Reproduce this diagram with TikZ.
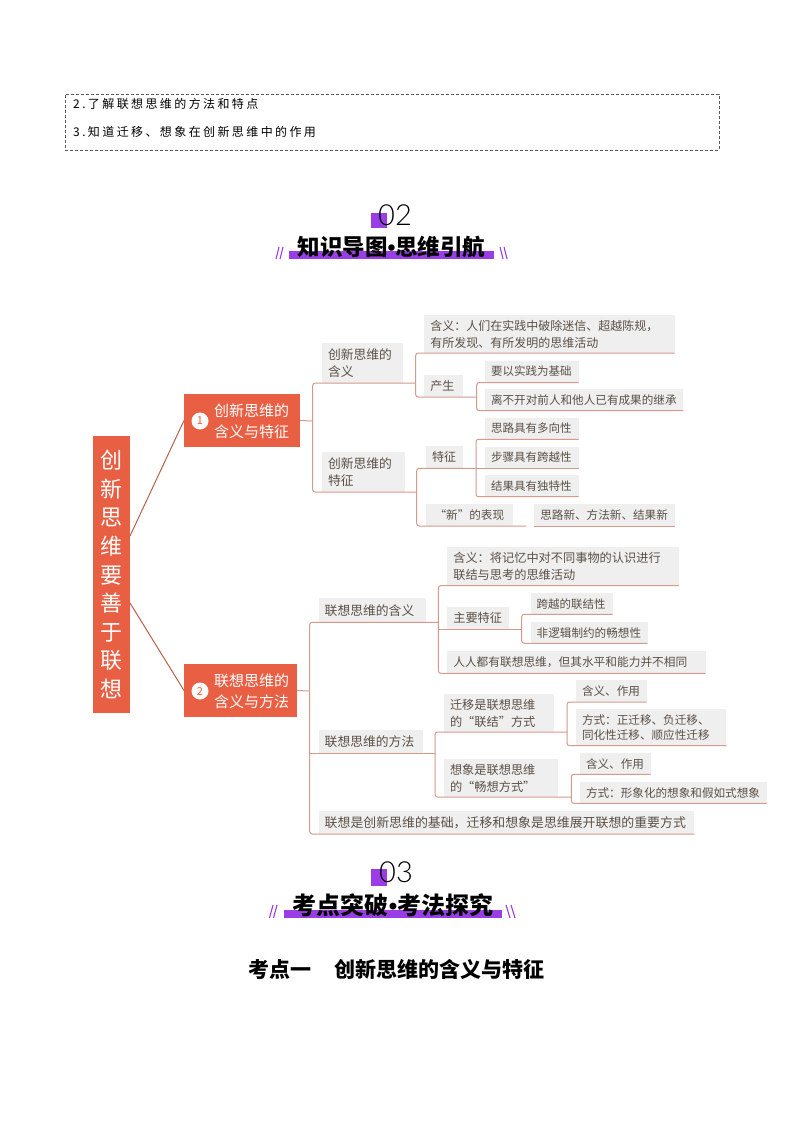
\documentclass[tikz,border=0pt]{standalone}
\usepackage{fontspec}
\setmainfont{Noto Sans CJK SC}
\newfontfamily\latinf{Liberation Sans}
\newfontfamily\numf{Lato Light}
\definecolor{mapred}{HTML}{E95F43}
\definecolor{rootline}{HTML}{B8614A}
\definecolor{branchline}{HTML}{D49A8B}
\definecolor{leafgray}{HTML}{EFEFEF}
\definecolor{leaftext}{HTML}{5B5046}
\definecolor{accent}{HTML}{9B3DE6}
\tikzset{
  x=1pt,y=-1pt,
  leaf/.style={fill=leafgray,text=leaftext,inner xsep=6pt,inner ysep=0pt,outer sep=0pt,anchor=north west,align=left},
  mainbox/.style={fill=mapred,inner sep=0pt,outer sep=0pt,anchor=north west},
  maintext/.style={text=white,inner sep=0pt,anchor=west,align=left,font=\fontsize{15}{20.5}\selectfont},
  numdot/.style={circle,fill=white,text=mapred,inner sep=0pt,minimum size=17pt,font=\fontsize{11}{11}\selectfont},
  rootlink/.style={draw=rootline,line width=1pt},
  branch/.style={draw=branchline,line width=1pt,rounded corners=2.5pt},
  titlebar/.style={fill=accent,inner sep=0pt,outer sep=0pt,anchor=north west},
  slash/.style={draw=accent,line width=1.1pt},
  numtitle/.style={text=black,inner sep=0pt,font=\numf\fontsize{29}{29}\selectfont},
  goaltext/.style={anchor=west,inner sep=0pt,font=\fontsize{12}{14}\selectfont\addfontfeature{LetterSpace=20}},
}
% \bx{font size}{name}{x1}{y1}{x2}{y2}{text}
\newcommand{\bx}[7]{\node[leaf,font=\fontsize{#1}{17}\selectfont,text width=#5pt-#3pt-12pt,minimum height=#6pt-#4pt] (#2) at (#3,#4) {#7};}
\begin{document}
\begin{tikzpicture}
\useasboundingbox (0,0) rectangle (794,1123);
\fill[white] (0,0) rectangle (794,1123);
% objectives box
\node[draw=black!65,densely dashed,line width=0.4pt,inner sep=0pt,outer sep=0pt,minimum width=654pt,minimum height=56pt,anchor=north west] (goals) at (65,94) {};
\node[goaltext] (g1) at (73,104) {2.了解联想思维的方法和特点};
\node[goaltext] (g2) at (73,132) {3.知道迁移、想象在创新思维中的作用};
% heading 02
\node[titlebar,minimum width=16pt,minimum height=15pt] (sq2) at (371,213) {};
\node[numtitle] (n02) at (395,215) {02};
\node[titlebar,minimum width=205pt,minimum height=8pt] (bar2) at (289,251) {};
\node[text=black,inner sep=0pt,font=\fontsize{22.5}{22.5}\bfseries\selectfont] (t2) at (391.5,246.5) {知识导图{\latinf\bfseries•}思维引航};
\draw[slash] (279,247) -- (276,259) (283,247) -- (280,259);
\draw[slash] (500,247) -- (503,259) (504,247) -- (507,259);
% root
\node[fill=mapred,text=white,inner sep=0pt,outer sep=0pt,minimum width=37pt,minimum height=277pt,anchor=north west,align=center,font=\fontsize{22}{28.6}\selectfont] (root) at (93,436) {创\\新\\思\\维\\要\\善\\于\\联\\想};
% level one
\node[mainbox,minimum width=116pt,minimum height=53pt] (m1box) at (184,394) {};
\node[mainbox,minimum width=113pt,minimum height=53pt] (m2box) at (184,664) {};
\node[numdot] (d1) at (200,421) {1};
\node[numdot] (d2) at (200,691) {2};
\node[maintext] (m1t) at (214,421.5) {创新思维的\\含义与特征};
\node[maintext] (m2t) at (214,691.5) {联想思维的\\含义与方法};
\coordinate (r1) at (root.east |- 0,536);
\coordinate (r2) at (root.east |- 0,603);
\draw[rootlink] (r1) -- (m1box.west);
\draw[rootlink] (r2) -- (m2box.west);
% upper branch
\bx{12.8}{a1}{322}{343}{403}{383}{创新思维的\\含义}
\bx{12.8}{a2}{322}{452}{404.5}{492}{创新思维的\\特征}
\bx{12}{a11}{424.3}{315}{674.7}{353}{含义：人们在实践中破除迷信、超越陈规，\\有所发现、有所发明的思维活动}
\bx{12}{a12}{424.3}{375}{463.3}{397}{产生}
\bx{11.5}{a121}{485}{360.7}{578.7}{382.5}{要以实践为基础}
\bx{11.6}{a122}{485}{389.3}{683.3}{410.7}{离不开对前人和他人已有成果的继承}
\bx{12}{a21}{426}{446}{463}{468.3}{特征}
\bx{11.5}{a211}{485}{417.7}{578.7}{439.3}{思路具有多向性}
\bx{11.5}{a212}{485}{446.7}{578.7}{468.3}{步骤具有跨越性}
\bx{11.5}{a213}{485}{475}{578.7}{496.7}{结果具有独特性}
\node[leaf,font=\fontsize{11.6}{17}\selectfont,minimum width=86.7pt,minimum height=22pt,align=center] (a22) at (426,504) {“新”的表现};
\bx{11.6}{a221}{534.3}{504}{674.7}{526}{思路新、方法新、结果新}
\coordinate (ba) at (312.7,421);
\coordinate (baa) at (415.7,383);
\coordinate (bac) at (476.7,397);
\coordinate (bab) at (416.7,492);
\coordinate (bad) at (476,468.3);
\coordinate (bae) at (526,526);
\draw[branch] (m1box.east) -- (ba);
\draw[branch] (baa |- a1.south east) -- (ba |- a1.south east) -- (ba |- a2.south east) -- (bab |- a2.south east);
\draw[branch] (a11.south east) -- (baa |- a11.south east) -- (baa |- a12.south east) -- (bac |- a12.south east);
\draw[branch] (a121.south east) -- (bac |- a121.south east) -- (bac |- a122.south east) -- (a122.south east);
\draw[branch] (bad |- a21.south west) -- (bab |- a21.south west) -- (bab |- a22.south west) -- (bae);
\draw[branch] (a211.south east) -- (bad |- a211.south east) -- (bad |- a213.south east) -- (a213.south east);
\draw[branch] (bad) -- (a212.south east);
\draw[branch] (a221.south west) -- (a221.south east);
% lower branch
\bx{12.8}{b1}{318.7}{598.3}{425.7}{622.3}{联想思维的含义}
\bx{12.8}{b2}{318.7}{730}{422.7}{753.3}{联想思维的方法}
\bx{12.9}{b3}{318.7}{810.7}{694.3}{834}{联想是创新思维的基础，迁移和想象是思维展开联想的重要方式}
\bx{12.2}{b11}{447.3}{547.3}{678.7}{585.7}{含义：将记忆中对不同事物的认识进行\\联结与思考的思维活动}
\bx{12.2}{b12}{447.3}{607.3}{509.3}{629.3}{主要特征}
\bx{11.5}{b121}{530.7}{593.3}{612.7}{614.3}{跨越的联结性}
\bx{11.6}{b122}{530.7}{622.3}{647.7}{643.3}{非逻辑制约的畅想性}
\bx{11.7}{b13}{447.3}{651}{705.7}{673.3}{人人都有联想思维，但其水平和能力并不相同}
\bx{12.2}{b21}{444}{694}{554.3}{732}{迁移是联想思维\\的“联结”方式}
\bx{12.2}{b22}{444}{758.7}{558.3}{797}{想象是联想思维\\的“畅想方式”}
\bx{11.6}{b211}{576}{680}{646.7}{702}{含义、作用}
\bx{11.6}{b212}{576}{709}{726.3}{745.7}{方式：正迁移、负迁移、\\[-1.5pt]同化性迁移、顺应性迁移}
\bx{11.6}{b221}{580}{753.3}{650.7}{774.3}{含义、作用}
\bx{11.6}{b222}{580}{782}{766.7}{803.3}{方式：形象化的想象和假如式想象}
\coordinate (bb) at (309.7,691);
\coordinate (bba) at (438.3,622.3);
\coordinate (bbb) at (435,753.3);
\coordinate (bbc) at (521.7,629.3);
\coordinate (bbd) at (567,732);
\coordinate (bbe) at (571.3,797);
\draw[branch] (m2box.east) -- (bb);
\draw[branch] (bba) -- (bb |- bba) -- (bb |- b3.south east) -- (b3.south east);
\draw[branch] (bb |- bbb) -- (bbb);
\draw[branch] (b11.south east) -- (bba |- b11.south east) -- (bba |- b13.south east) -- (b13.south east);
\draw[branch] (bba |- b12.south east) -- (bbc);
\draw[branch] (b121.south east) -- (bbc |- b121.south east) -- (bbc |- b122.south east) -- (b122.south east);
\draw[branch] (bbd) -- (bbb |- bbd) -- (bbb |- bbe) -- (bbe);
\draw[branch] (b211.south east) -- (bbd |- b211.south east) -- (bbd |- b212.south east) -- (b212.south east);
\draw[branch] (b221.south east) -- (bbe |- b221.south east) -- (bbe |- b222.south east) -- (b222.south east);
% heading 03
\node[titlebar,minimum width=16pt,minimum height=17pt] (sq3) at (371,869) {};
\node[numtitle] (n03) at (396,872) {03};
\node[titlebar,minimum width=218pt,minimum height=8pt] (bar3) at (284,910) {};
\node[text=black,inner sep=0pt,font=\fontsize{24}{24}\bfseries\selectfont] (t3) at (393,905) {考点突破{\latinf\bfseries•}考法探究};
\draw[slash] (273,905) -- (269.5,918) (277,905) -- (273.5,918);
\draw[slash] (506,905) -- (510,918) (511,905) -- (515,918);
\node[text=black,inner sep=0pt,anchor=west,font=\fontsize{21}{21}\bfseries\selectfont] (sec) at (248,969) {考点一\hspace{23pt}创新思维的含义与特征};
\end{tikzpicture}
\end{document}
